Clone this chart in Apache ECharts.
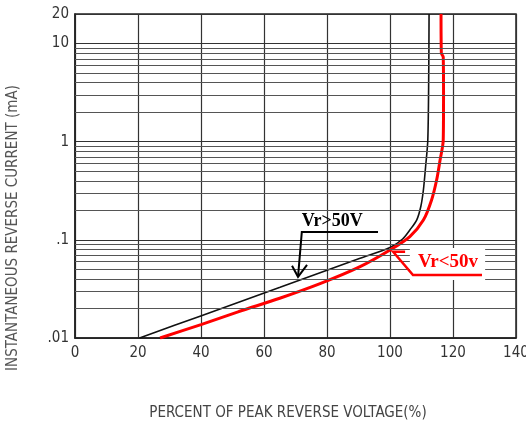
<!DOCTYPE html>
<html>
<head>
<meta charset="utf-8">
<script src="https://cdn.jsdelivr.net/npm/echarts@6/dist/echarts.min.js"></script>
<style>
html,body{margin:0;padding:0;background:#fff;}
#c{width:526px;height:426px;}
</style>
</head>
<body>
<div id="c"></div>
<script>
// Percent of peak reverse voltage (x) vs instantaneous reverse current in mA (y)
const blackX = [20.5, 39.7, 65.1, 90.5, 100, 104, 106.3, 108.5, 109.8, 110.6, 111.3, 112.0, 112.3, 112.4];
const blackY = [0.01, 0.0167, 0.0329, 0.0649, 0.0836, 0.102, 0.126, 0.16, 0.22, 0.322, 0.556, 1.04, 5, 20];
const redX = [27, 40, 52, 65, 78, 90.5, 100, 106.3, 110.6, 113.2, 114.8, 115.9, 116.9, 117, 116.9, 116.3, 116.2];
const redY = [0.01, 0.0137, 0.0186, 0.0254, 0.036, 0.0533, 0.0788, 0.108, 0.159, 0.255, 0.407, 0.651, 1.04, 3, 7.3, 8, 20];
const xTicks = [0, 20, 40, 60, 80, 100, 120, 140];
const yLabels = {0.01: '.01', 0.1: '.1', 1: '1', 10: '10', 20: '20'};
const decades = [0.01, 0.1, 1];
const minorMult = [2, 3, 4, 5, 6, 7, 8, 9];

const minorVals = [];
decades.forEach(d => minorMult.forEach(m => minorVals.push(+(d * m).toPrecision(3))));

const narrow = '"Liberation Sans Narrow", "Arial Narrow", "DejaVu Sans Condensed", sans-serif';
const chart = echarts.init(document.getElementById('c'), null, {renderer: 'canvas'});
const zip = (a, b) => a.map((v, i) => [v, b[i]]);

chart.setOption({
  animation: false,
  backgroundColor: '#fff',
  grid: {left: 75, right: 10, top: 14, bottom: 88, show: true, borderColor: '#222', borderWidth: 1.5, outerBoundsMode: 'none', containLabel: false},
  xAxis: {
    type: 'value', min: 0, max: 140, interval: 20,
    axisLine: {show: true, lineStyle: {color: '#222', width: 1.5}},
    axisTick: {show: false},
    axisLabel: {margin: 8, fontFamily: narrow, fontSize: 15, color: '#333'},
    splitLine: {show: true, lineStyle: {color: '#333', width: 1.2}}
  },
  yAxis: {
    type: 'log', logBase: 10, min: 0.01, max: 20,
    axisLine: {show: true, lineStyle: {color: '#222', width: 1.5}},
    axisTick: {show: false},
    axisLabel: {
      margin: 6, fontFamily: narrow, fontSize: 15, color: '#333',
      formatter: v => { const k = +(+v).toPrecision(3); return yLabels[k] !== undefined ? yLabels[k] : ''; }
    },
    splitLine: {show: true, lineStyle: {color: '#333', width: 1.2}}
  },
  series: [
    {
      type: 'line', name: 'grid', data: [], z: 1, silent: true,
      markLine: {
        silent: true, symbol: ['none', 'none'], label: {show: false},
        lineStyle: {color: '#555', type: 'solid', width: 1.1},
        data: minorVals.map(v => ({yAxis: v}))
      }
    },
    {
      type: 'line', name: 'Vr>50V', data: zip(blackX, blackY), showSymbol: false, smooth: 0.3, z: 3,
      lineStyle: {color: '#111', width: 1.6}
    },
    {
      type: 'line', name: 'Vr<50v', data: zip(redX, redY), showSymbol: false, smooth: 0.3, z: 4,
      lineStyle: {color: '#ff0000', width: 3}
    }
  ]
});

// annotations anchored in data coordinates
const P = (x, y) => chart.convertToPixel({gridIndex: 0}, [x, y]);
const bText = P(72, 0.125), bU0 = P(72, 0.12), bU1 = P(96.2, 0.12), bTip = P(70.8, 0.042);
const boxA = P(106.3, 0.0826), boxB = P(130.2, 0.039);
const rTip = P(101, 0.0757), rBar = P(104.8, 0.0757), rU0 = P(107.3, 0.0439), rU1 = P(129.2, 0.0439);
const rText = P(108.9, 0.047);

chart.setOption({
  graphic: [
    {type: 'rect', shape: {x: boxA[0], y: boxA[1], width: boxB[0] - boxA[0], height: boxB[1] - boxA[1]}, style: {fill: '#fff'}, z: 50},
    {type: 'polyline', shape: {points: [bU1, bU0, bTip]}, style: {stroke: '#000', lineWidth: 2, fill: null}, z: 60},
    {type: 'polyline', shape: {points: [[bTip[0] - 6, bTip[1] - 11], bTip, [bTip[0] + 9, bTip[1] - 12]]}, style: {stroke: '#000', lineWidth: 2, fill: null}, z: 60},
    {type: 'text', x: bText[0], y: bText[1], style: {text: 'Vr>50V', fill: '#000', font: 'bold 18px "Liberation Serif", "Times New Roman", serif', textVerticalAlign: 'bottom'}, z: 60},
    {type: 'polyline', shape: {points: [rBar, rTip, rU0, rU1]}, style: {stroke: '#ff0000', lineWidth: 2.5, fill: null}, z: 60},
    {type: 'text', x: rText[0], y: rText[1], style: {text: 'Vr<50v', fill: '#ff0000', font: 'bold 19px "Liberation Serif", "Times New Roman", serif', textVerticalAlign: 'bottom'}, z: 60},
    {type: 'text', x: 13, y: 228, rotation: Math.PI / 2, style: {text: 'INSTANTANEOUS REVERSE CURRENT (mA)', fill: '#555', font: '15px ' + narrow, textAlign: 'center', textVerticalAlign: 'middle'}, z: 60},
    {type: 'text', x: 288, y: 413, style: {text: 'PERCENT OF PEAK REVERSE VOLTAGE(%)', fill: '#444', font: '15px ' + narrow, textAlign: 'center', textVerticalAlign: 'middle'}, z: 60}
  ]
});
</script>
</body>
</html>
